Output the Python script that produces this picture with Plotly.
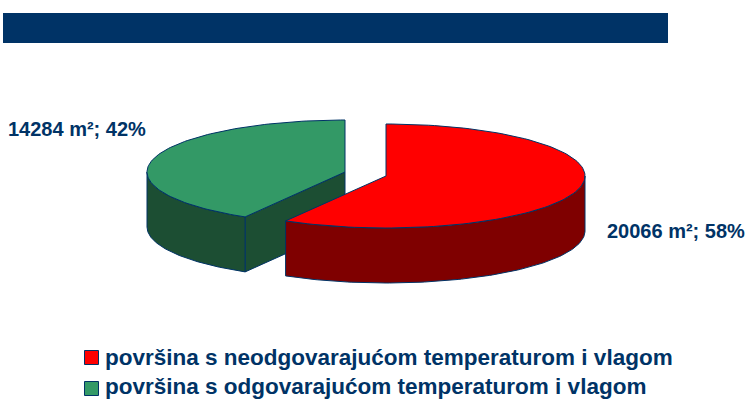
import numpy as np
import plotly.graph_objects as go

categories = ["površina s neodgovarajućom temperaturom i vlagom",
              "površina s odgovarajućom temperaturom i vlagom"]
areas = [20066, 14284]
units = "m²"

NAVY = "#003366"
TOP = ["#FF0000", "#339966"]
SIDE = ["#7F0000", "#1C4E33"]
FONT = "Liberation Sans"

centres = [(386.0, 176.0), (345.0, 172.0)]
directions = [1, -1]
radii_x = [199.0, 198.0]
RY, DEPTH = 52.0, 55.0

total = sum(areas)
fractions = [a / total for a in areas]


def arc(i, t0, t1, dz=0.0):
    cx, cy = centres[i]
    t = np.radians(np.linspace(t0, t1, 120))
    return cx + directions[i] * radii_x[i] * np.sin(t), cy - RY * np.cos(t) + dz


def poly(xs, ys, fill):
    xs = np.concatenate([np.atleast_1d(v) for v in xs])
    ys = np.concatenate([np.atleast_1d(v) for v in ys])
    return go.Scatter(x=np.r_[xs, xs[0]], y=np.r_[ys, ys[0]], mode="lines", fill="toself",
                      fillcolor=fill, line=dict(color=NAVY, width=1),
                      hoverinfo="skip", showlegend=False)


fig = go.Figure()
for i in [1, 0]:
    end = 360 * fractions[i]
    cx, cy = centres[i]
    ex, ey = arc(i, end, end)
    ex, ey = ex[0], ey[0]
    if i == 1:
        fig.add_trace(poly([ex, cx, cx, ex], [ey, cy, cy + DEPTH, ey + DEPTH], SIDE[i]))
    ax, ay = arc(i, 90, end)
    bx, by = arc(i, end, 90, DEPTH)
    fig.add_trace(poly([ax, bx], [ay, by], SIDE[i]))
    tx, ty = arc(i, 0, end)
    fig.add_trace(poly([cx, tx], [cy, ty], TOP[i]))

annotations = []
label_pos = [(605, 231), (6, 129)]
for i, (x, y) in enumerate(label_pos):
    annotations.append(dict(x=x, y=y, xref="x", yref="y", xanchor="left", yanchor="middle",
                            showarrow=False,
                            text=f"<b>{areas[i]} {units}; {round(100 * fractions[i])}%</b>",
                            font=dict(family=FONT, size=20, color=NAVY)))

# legend rows
swatch_rows = [357.5, 388.5]
text_rows = [357.5, 386.5]
for i, name in enumerate(categories):
    fig.add_trace(go.Scatter(x=[91.5], y=[swatch_rows[i]], mode="markers", showlegend=False,
                             hoverinfo="skip", cliponaxis=False,
                             marker=dict(symbol="square", size=14, color=TOP[i],
                                         line=dict(color=NAVY, width=1))))
    annotations.append(dict(x=103, y=text_rows[i], xref="x", yref="y", xanchor="left",
                            yanchor="middle", showarrow=False, text=f"<b>{name}</b>",
                            font=dict(family=FONT, size=22.5, color=NAVY)))

fig.update_layout(
    width=747, height=400, margin=dict(l=0, r=0, t=0, b=0, pad=0),
    paper_bgcolor="white", plot_bgcolor="white", showlegend=False,
    xaxis=dict(range=[0, 747], visible=False, fixedrange=True),
    yaxis=dict(range=[400, 0], visible=False, fixedrange=True),
    shapes=[dict(type="rect", xref="x", yref="y", x0=3, x1=668, y0=13, y1=43,
                 fillcolor=NAVY, line=dict(width=0), layer="below")],
    annotations=annotations,
)
fig.write_html("out.html", config={"displayModeBar": False},
               post_script="document.body.style.margin='0';document.body.style.overflow='hidden';")
